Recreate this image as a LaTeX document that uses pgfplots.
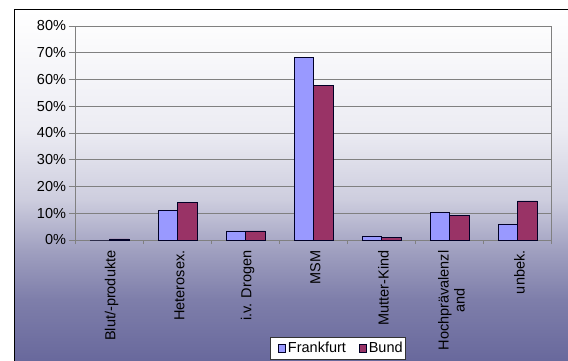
\documentclass[border=0pt]{standalone}
\usepackage{fontspec}
\setmainfont{Liberation Sans}
\usepackage{pgfplots}
\pgfplotsset{compat=1.18}
\definecolor{frank}{RGB}{153,153,255}
\definecolor{bund}{RGB}{153,51,102}
\definecolor{cA}{RGB}{236,236,243}
\definecolor{cB}{RGB}{205,205,222}
\definecolor{cC}{RGB}{160,160,192}
\definecolor{cD}{RGB}{126,126,170}
\definecolor{cE}{RGB}{104,104,156}
\definecolor{gridc}{RGB}{128,128,128}
\newcommand\lab{\fontsize{14.5bp}{16bp}\selectfont}
\begin{document}
\begin{tikzpicture}[x=1bp,y=1bp]
\path[use as bounding box] (0,0) rectangle (568,360);
\fill[white] (0,0) rectangle (568,360);
\shade[top color=white, bottom color=cA] (14.5,230) rectangle (568,350);
\shade[top color=cA, bottom color=cB] (14.5,160) rectangle (568,230.2);
\shade[top color=cB, bottom color=cC] (14.5,110) rectangle (568,160.2);
\shade[top color=cC, bottom color=cD] (14.5,60) rectangle (568,110.2);
\shade[top color=cD, bottom color=cE] (14.5,-2) rectangle (568,60.2);
\draw[black, line width=1bp] (14.5,-5) -- (14.5,350) -- (575,350);
\begin{axis}[
  at={(75.5bp,120bp)}, anchor=south west,
  scale only axis, width=476bp, height=214bp,
  ymin=0, ymax=80, xmin=-0.5, xmax=6.5,
  ytick={0,10,20,30,40,50,60,70,80},
  yticklabels={0\%,10\%,20\%,30\%,40\%,50\%,60\%,70\%,80\%},
  xtick={0,1,2,3,4,5,6},
  xticklabels={Blut/-produkte,Heterosex.,i.v. Drogen,MSM,Mutter-Kind,{Hochprävalenzl\\and},unbek.},
  minor xtick={-0.5,0.5,1.5,2.5,3.5,4.5,5.5,6.5},
  tick align=outside, xtick pos=bottom, ytick pos=left,
  major tick length=7bp, minor tick length=4bp,
  x tick style={draw=none},
  minor x tick style={draw=gridc, line width=0.8bp},
  y tick style={draw=gridc, line width=0.8bp},
  ymajorgrids, grid style={draw=gridc, line width=1bp},
  axis line style={draw=gridc, line width=1bp},
  yticklabel style={font=\lab, xshift=1bp},
  xticklabel style={font=\lab, rotate=90, anchor=east, align=center, yshift=-2bp},
  ybar, bar width=19.5bp,
  legend columns=2,
  legend style={at={(axis description cs:0.4086,-0.4533)}, anchor=north west,
    draw=black!80, fill=white, font=\lab, inner xsep=1bp, inner ysep=3bp,
    /tikz/every odd column/.append style={column sep=0bp},
    /tikz/every even column/.append style={column sep=4bp}},
]
\addplot[ybar, bar shift=-9.75bp, fill=frank, draw=black!85!blue, line width=0.8bp,
  legend image code/.code={\path (0bp,0bp); \draw[fill=frank, draw=black!85!blue, line width=0.8bp] (7bp,-4bp) rectangle (14bp,3.5bp);}]
  coordinates {(0,0) (1,11.2) (2,3.4) (3,68.1) (4,1.4) (5,10.2) (6,5.9)};
\addlegendentry{Frankfurt}
\addplot[ybar, bar shift=9.75bp, fill=bund, draw=black!85!blue, line width=0.8bp,
  legend image code/.code={\path (0bp,0bp); \draw[fill=bund, draw=black!85!blue, line width=0.8bp] (7bp,-4bp) rectangle (14bp,3.5bp);}]
  coordinates {(0,0.4) (1,14.2) (2,3.4) (3,57.9) (4,0.8) (5,9.3) (6,14.6)};
\addlegendentry{Bund}
\end{axis}
\end{tikzpicture}
\end{document}
